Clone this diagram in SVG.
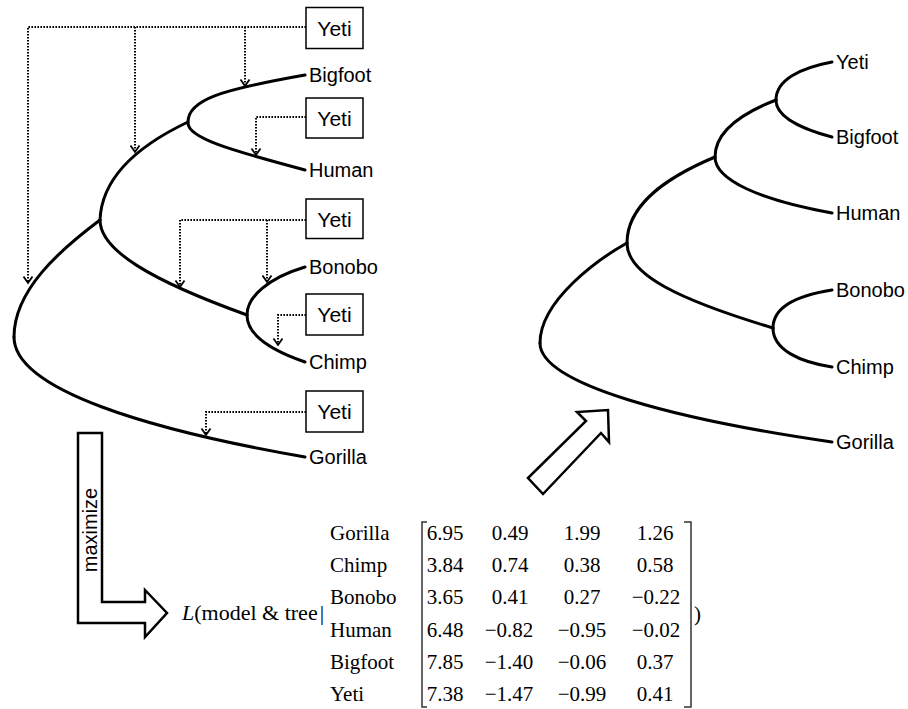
<svg xmlns="http://www.w3.org/2000/svg" width="908" height="709" viewBox="0 0 908 709">
<defs>
<style>
.branch{fill:none;stroke:#000;stroke-width:3;stroke-linecap:round}
.dot{fill:none;stroke:#000;stroke-width:2;stroke-dasharray:1.6 1.4}
.box{fill:#fff;stroke:#000;stroke-width:1.5}
.lbl{font-family:"Liberation Sans",Arial,sans-serif;font-size:20px;fill:#000}
.boxt{font-family:"Liberation Sans",Arial,sans-serif;font-size:21px;fill:#000;text-anchor:middle}
.ser{font-family:"Liberation Serif","Times New Roman",serif;font-size:21px;fill:#000}
.num{font-family:"Liberation Serif","Times New Roman",serif;font-size:21px;fill:#000;text-anchor:middle}
.fat{fill:#fff;stroke:#000;stroke-width:2.5;stroke-linejoin:miter}
.brk{fill:none;stroke:#333;stroke-width:1.5}
</style>
<marker id="chev" markerUnits="userSpaceOnUse" markerWidth="14" markerHeight="14" viewBox="-8 -7 10 14" refX="0" refY="0" orient="auto">
<path d="M-6.5,-4.5 L0,0 L-6.5,4.5" fill="none" stroke="#000" stroke-width="1.8"/>
</marker>
</defs>
<rect width="908" height="709" fill="#fff"/>

<g id="left-tree">
<path class="branch" d="M100,220 C60,250 14,290 14,337"/>
<path class="branch" d="M14,337 C14,390 150,430 305,457"/>
<path class="branch" d="M100,220 C102,170 150,140 188,122"/>
<path class="branch" d="M100,220 C100,250 150,280 247,315"/>
<path class="branch" d="M188,122 C188,100 220,90 305,75"/>
<path class="branch" d="M188,123 C188,138 230,150 305,170"/>
<path class="branch" d="M247,315 C247,297 268,278 305,267"/>
<path class="branch" d="M247,315 C247,335 270,350 305,362"/>
</g>

<g id="connectors">
<path class="dot" d="M306,27 H28 V283" marker-end="url(#chev)"/>
<path class="dot" d="M135,27 V152" marker-end="url(#chev)"/>
<path class="dot" d="M245,27 V86" marker-end="url(#chev)"/>
<path class="dot" d="M306,117 H256 V155" marker-end="url(#chev)"/>
<path class="dot" d="M306,220 H180 V287" marker-end="url(#chev)"/>
<path class="dot" d="M267,220 V282" marker-end="url(#chev)"/>
<path class="dot" d="M306,315 H278 V345" marker-end="url(#chev)"/>
<path class="dot" d="M306,412 H206 V435" marker-end="url(#chev)"/>
</g>

<g id="yeti-box-1"><rect class="box" x="306" y="7.5" width="57" height="41"/><text class="boxt" x="334.5" y="35.5">Yeti</text></g>
<g id="yeti-box-2"><rect class="box" x="306" y="98" width="57" height="40"/><text class="boxt" x="334.5" y="125.5">Yeti</text></g>
<g id="yeti-box-3"><rect class="box" x="306" y="199" width="57" height="39.5"/><text class="boxt" x="334.5" y="226.5">Yeti</text></g>
<g id="yeti-box-4"><rect class="box" x="306" y="294" width="57" height="41"/><text class="boxt" x="334.5" y="322">Yeti</text></g>
<g id="yeti-box-5"><rect class="box" x="306" y="391" width="57" height="41"/><text class="boxt" x="334.5" y="419">Yeti</text></g>

<g id="left-labels">
<text class="lbl" x="309" y="82">Bigfoot</text>
<text class="lbl" x="309" y="177">Human</text>
<text class="lbl" x="309" y="274">Bonobo</text>
<text class="lbl" x="309" y="369">Chimp</text>
<text class="lbl" x="309" y="464">Gorilla</text>
</g>

<g id="right-tree">
<path class="branch" d="M627,243 C600,258 540,300 540,343"/>
<path class="branch" d="M540,343 C540,385 680,420 832,442"/>
<path class="branch" d="M627,243 C627,275 680,300 773,328"/>
<path class="branch" d="M773,328 C773,305 800,295 832,290"/>
<path class="branch" d="M773,328 C773,350 800,362 832,367"/>
<path class="branch" d="M627,243 C627,205 665,178 715,157"/>
<path class="branch" d="M715,157 C715,180 760,200 832,213"/>
<path class="branch" d="M715,157 C715,130 745,112 776,100"/>
<path class="branch" d="M776,100 C776,80 800,68 832,62"/>
<path class="branch" d="M776,100 C776,118 805,130 832,137"/>
</g>

<g id="right-labels">
<text class="lbl" x="836" y="69">Yeti</text>
<text class="lbl" x="836" y="144">Bigfoot</text>
<text class="lbl" x="836" y="220">Human</text>
<text class="lbl" x="836" y="297">Bonobo</text>
<text class="lbl" x="836" y="374">Chimp</text>
<text class="lbl" x="836" y="449">Gorilla</text>
</g>

<g id="maximize-arrow">
<path class="fat" d="M78,433 H102 V602 H145 V590 L167,613 L145,637 V623 H78 Z"/>
<text class="lbl" transform="translate(97,530) rotate(-90)" text-anchor="middle">maximize</text>
</g>

<g id="result-arrow">
<path class="fat" d="M528,478 L586,421 L577,412 L608,410 L609,442 L601,433 L543,494 Z"/>
</g>

<g id="likelihood">
<text class="ser" x="182" y="620" style="font-size:22px"><tspan font-style="italic">L</tspan>(model &amp; tree<tspan dx="2">|</tspan></text>
<text class="ser" x="694" y="621">)</text>
</g>

<g id="matrix">
<text class="ser" x="330" y="540">Gorilla</text>
<text class="ser" x="330" y="572">Chimp</text>
<text class="ser" x="330" y="604">Bonobo</text>
<text class="ser" x="330" y="637">Human</text>
<text class="ser" x="330" y="669">Bigfoot</text>
<text class="ser" x="330" y="701">Yeti</text>
<path class="brk" d="M427,522 H422 V707 H427"/>
<path class="brk" d="M684,522 H691 V707 H684"/>
<text class="num" x="445" y="540">6.95</text><text class="num" x="510" y="540">0.49</text><text class="num" x="582" y="540">1.99</text><text class="num" x="655" y="540">1.26</text>
<text class="num" x="445" y="572">3.84</text><text class="num" x="510" y="572">0.74</text><text class="num" x="582" y="572">0.38</text><text class="num" x="655" y="572">0.58</text>
<text class="num" x="445" y="604">3.65</text><text class="num" x="510" y="604">0.41</text><text class="num" x="582" y="604">0.27</text><text class="num" x="656" y="604">−0.22</text>
<text class="num" x="445" y="637">6.48</text><text class="num" x="509" y="637">−0.82</text><text class="num" x="582" y="637">−0.95</text><text class="num" x="656" y="637">−0.02</text>
<text class="num" x="445" y="669">7.85</text><text class="num" x="509" y="669">−1.40</text><text class="num" x="582" y="669">−0.06</text><text class="num" x="655" y="669">0.37</text>
<text class="num" x="445" y="701">7.38</text><text class="num" x="509" y="701">−1.47</text><text class="num" x="582" y="701">−0.99</text><text class="num" x="655" y="701">0.41</text>
</g>
</svg>
